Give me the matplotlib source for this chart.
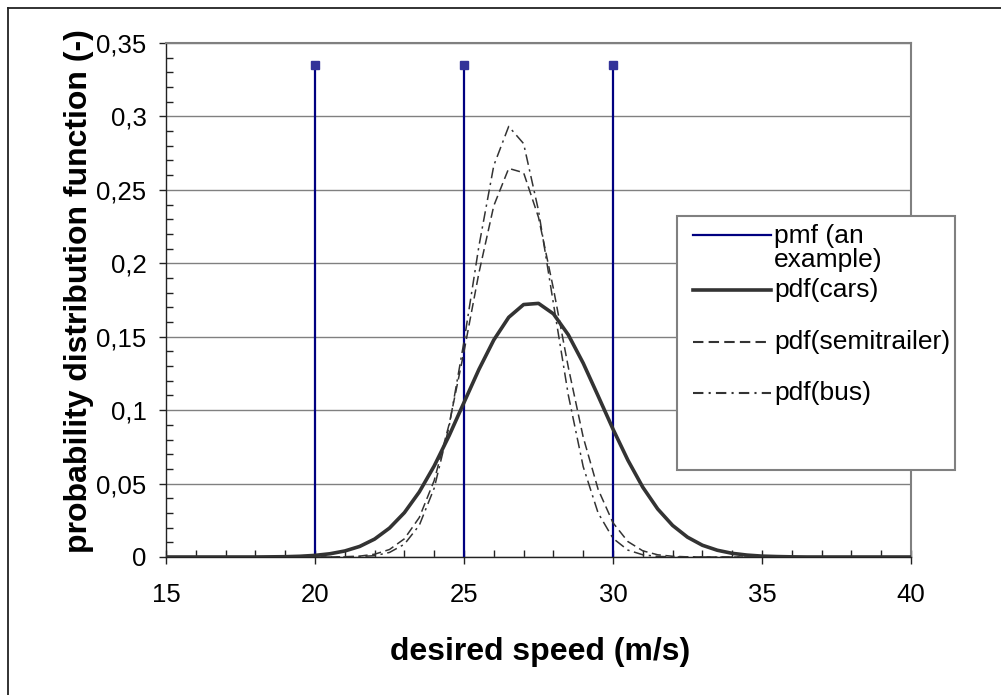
import numpy as np
import matplotlib
matplotlib.use("Agg")
import matplotlib.pyplot as plt
from matplotlib.ticker import MultipleLocator, FuncFormatter
from matplotlib.lines import Line2D
from matplotlib.patches import Rectangle

plt.rcParams['font.family'] = ['Liberation Sans', 'DejaVu Sans']

# desired speed grid (m/s)
speed = np.arange(15, 40.5, 0.5)

pdf_cars = [0, 0, 0, 0, 0, 0, 0, 0.0001, 0.0002, 0.0005,
            0.0011, 0.0022, 0.0041, 0.0072, 0.0122, 0.0197, 0.0302, 0.0443, 0.0620, 0.0826,
            0.1052, 0.1277, 0.1478, 0.1632, 0.1719, 0.1727, 0.1656, 0.1513, 0.1320, 0.1097,
            0.0871, 0.0659, 0.0475, 0.0327, 0.0215, 0.0135, 0.0080, 0.0046, 0.0025, 0.0013,
            0.0006, 0.0003, 0.0001, 0, 0, 0, 0, 0, 0, 0, 0]

pdf_semi = [0] * 12 + [0.0002, 0.0006, 0.0019, 0.0051, 0.0124, 0.0269, 0.0521, 0.0903,
                       0.1398, 0.1934, 0.2392, 0.2646, 0.2617, 0.2313, 0.1828, 0.1292,
                       0.0816, 0.0461, 0.0233, 0.0105, 0.0042, 0.0015, 0.0005, 0.0001] + [0] * 15

pdf_bus = [0] * 13 + [0.0003, 0.0009, 0.0031, 0.0087, 0.0216, 0.0469, 0.0888, 0.1467,
                      0.2116, 0.2666, 0.2932, 0.2815, 0.2359, 0.1727, 0.1103, 0.0615,
                      0.0300, 0.0127, 0.0047, 0.0015, 0.0004, 0.0001] + [0] * 16

# pmf example
pmf_speed = [20, 25, 30]
pmf_prob = [0.335, 0.335, 0.335]

W, H = 1001, 695
fig = plt.figure(figsize=(W / 100, H / 100), dpi=100)
ax = fig.add_axes([166 / W, 1 - 557 / H, (911 - 166) / W, (557 - 43) / H])


def fx(px):
    return px / W


def fy(py):
    return 1 - py / H


# outer chart border (left + top visible)
fig.add_artist(Line2D([fx(8), fx(8)], [0, fy(8)], color='#222222', lw=1.3))
fig.add_artist(Line2D([fx(8), 1], [fy(8), fy(8)], color='#222222', lw=1.3))

navy = '#000080'
ax.vlines(pmf_speed, 0, pmf_prob, color=navy, lw=1.6, zorder=3)
ax.plot(pmf_speed, pmf_prob, ls='none', marker='s', ms=6, color='#333399', zorder=4)

gray = '#333333'
semi_ls = (0, (6, 3))
bus_ls = (0, (7, 3, 1.5, 3))
ax.plot(speed, pdf_cars, color=gray, lw=2.6, zorder=5)
ax.plot(speed, pdf_semi, color=gray, lw=1.1, ls=semi_ls, zorder=5)
ax.plot(speed, pdf_bus, color=gray, lw=1.1, ls=bus_ls, zorder=5)

ax.set_xlim(15, 40)
ax.set_ylim(0, 0.35)
ax.xaxis.set_major_locator(MultipleLocator(5))
ax.xaxis.set_minor_locator(MultipleLocator(1))
ax.yaxis.set_major_locator(MultipleLocator(0.05))
ax.yaxis.set_minor_locator(MultipleLocator(0.01))
ax.yaxis.set_major_formatter(FuncFormatter(lambda v, p: ('%g' % round(v, 2)).replace('.', ',')))

ax.grid(axis='y', which='major', color='#808080', lw=1.0, zorder=1)
ax.set_axisbelow(True)
for s in ['top', 'right']:
    ax.spines[s].set_color('#808080')
    ax.spines[s].set_linewidth(1.5)
for s in ['left', 'bottom']:
    ax.spines[s].set_color('#222222')
    ax.spines[s].set_linewidth(1.0)

ax.tick_params(axis='x', which='major', direction='inout', length=10, width=1, pad=14,
               labelsize=18.5, colors='#222222', labelcolor='black')
ax.tick_params(axis='x', which='minor', direction='in', length=5, width=1, colors='#222222')
ax.tick_params(axis='y', which='major', direction='out', length=5, width=1, pad=9,
               labelsize=18.5, colors='#222222', labelcolor='black')
ax.tick_params(axis='y', which='minor', direction='in', length=5, width=1, colors='#222222')

fig.text(fx(79), fy(291), 'probability distribution function (-)', rotation=90,
         ha='center', va='center', fontsize=23, fontweight='bold')
fig.text(fx(540), fy(652), 'desired speed (m/s)', ha='center', va='center',
         fontsize=23, fontweight='bold')

# legend box
fig.add_artist(Rectangle((fx(677), fy(470)), fx(955) - fx(677), fy(216) - fy(470),
                         transform=fig.transFigure, facecolor='white', edgecolor='#808080',
                         lw=1.5, zorder=10))
legend_rows = [
    ('pmf (an\nexample)', 235, 248.5, dict(color=navy, lw=1.6)),
    ('pdf(cars)', 290, 290, dict(color=gray, lw=2.6)),
    ('pdf(semitrailer)', 342, 342, dict(color=gray, lw=1.5, ls=(0, (5, 2.5)))),
    ('pdf(bus)', 393, 393, dict(color=gray, lw=1.5, ls=(0, (5, 2.5, 1, 2.5)))),
]
for label, y_line, y_text, style in legend_rows:
    fig.add_artist(Line2D([fx(693), fx(771)], [fy(y_line), fy(y_line)], zorder=11, **style))
    fig.text(fx(774), fy(y_text), label, ha='left', va='center', fontsize=19,
             linespacing=1.0, zorder=12)

fig.savefig('out.png', dpi=100)
